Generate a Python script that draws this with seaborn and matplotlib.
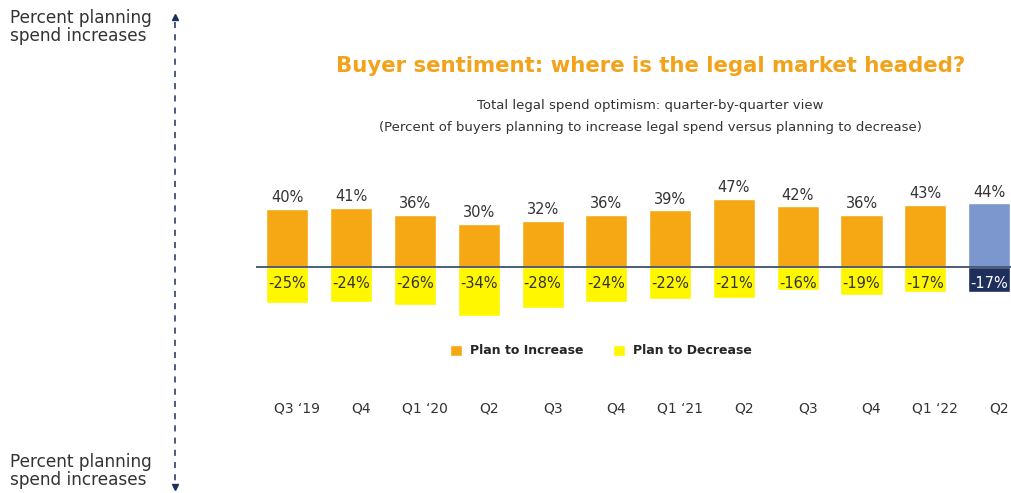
import matplotlib
matplotlib.use("Agg")
import matplotlib.pyplot as plt
from matplotlib.patches import Patch
from matplotlib.transforms import ScaledTranslation
import pandas as pd
import seaborn as sns

# quarter keys (unique) and the labels shown under the bars
periods = ["Q3 19", "Q4 19", "Q1 20", "Q2 20", "Q3 20", "Q4 20",
           "Q1 21", "Q2 21", "Q3 21", "Q4 21", "Q1 22", "Q2 22"]
tick_labels = ["Q3 \u201819", "Q4", "Q1 \u201820", "Q2", "Q3", "Q4",
               "Q1 \u201821", "Q2", "Q3", "Q4", "Q1 \u201822", "Q2"]
plan_increase = [40, 41, 36, 30, 32, 36, 39, 47, 42, 36, 43, 44]
plan_decrease = [-25, -24, -26, -34, -28, -24, -22, -21, -16, -19, -17, -17]

ORANGE = "#F5A814"
YELLOW = "#FFF700"
BLUE = "#7B97CD"
NAVY = "#1F2F5C"
TEXT = "#333333"

df = pd.DataFrame({"period": periods, "increase": plan_increase,
                   "decrease": plan_decrease})

inc_colors = [ORANGE] * (len(periods) - 1) + [BLUE]
dec_colors = [YELLOW] * (len(periods) - 1) + [NAVY]

sns.set_style("white")
plt.rcParams["font.family"] = ["DejaVu Sans"]

W, H = 1011, 493
fig = plt.figure(figsize=(W / 100, H / 100), dpi=100)

# bar axes placed in pixel terms
left_px, right_px, top_px, bot_px = 255.5, 1021, 140, 340
ax = fig.add_axes([left_px / W, 1 - bot_px / H,
                   (right_px - left_px) / W, (bot_px - top_px) / H])

sns.barplot(data=df, x="period", y="increase", hue="period",
            palette=inc_colors, legend=False, width=0.66, saturation=1, ax=ax)
sns.barplot(data=df, x="period", y="decrease", hue="period",
            palette=dec_colors, legend=False, width=0.66, saturation=1, ax=ax)

ax.set_ylim(-50.3, 87.6)
ax.set_xlim(-0.5, len(periods) - 0.5)
ax.axhline(0, color="#3F5170", lw=1.3, zorder=5)

for i, (up, dn) in enumerate(zip(plan_increase, plan_decrease)):
    ax.text(i, up + 2.5, f"{up}%", ha="center", va="bottom",
            fontsize=10.5, color=TEXT)
    ax.text(i, -11, f"{dn}%", ha="center", va="center", fontsize=10.5,
            color="white" if i == len(periods) - 1 else TEXT, zorder=6)

ax.set_xticks(range(len(periods)))
ax.set_xticklabels(tick_labels, fontsize=10, color=TEXT)
ax.tick_params(axis="x", length=0, pad=44)
# quarter labels sit a little right of the bar centres
shift = ScaledTranslation(10 / 100, 0, fig.dpi_scale_trans)
for lab in ax.get_xticklabels():
    lab.set_transform(lab.get_transform() + shift)
ax.set_yticks([])
ax.set_xlabel("")
ax.set_ylabel("")
sns.despine(ax=ax, left=True, bottom=True)

# overlay in pixel coordinates for titles and side note
ov = fig.add_axes([0, 0, 1, 1], zorder=-1)
ov.set_xlim(0, W)
ov.set_ylim(H, 0)
ov.axis("off")

ov.text(651, 66, "Buyer sentiment: where is the legal market headed?",
        ha="center", va="center", fontsize=15.3, fontweight="bold",
        color="#F2A31B")
ov.text(650, 105, "Total legal spend optimism: quarter-by-quarter view",
        ha="center", va="center", fontsize=9.5, color=TEXT)
ov.text(650, 127, "(Percent of buyers planning to increase legal spend "
        "versus planning to decrease)",
        ha="center", va="center", fontsize=9.5, color=TEXT)

for y in (27, 471):
    ov.text(10, y, "Percent planning\nspend increases", ha="left",
            va="center", fontsize=12.2, color=TEXT, linespacing=1.0)

ov.plot([175, 175], [22, 482], color=NAVY, lw=1.1, ls=(0, (4, 4)))
ov.plot([175], [17], marker="^", color=NAVY, markersize=5)
ov.plot([175], [487], marker="v", color=NAVY, markersize=5)

handles = [Patch(facecolor=ORANGE, label="Plan to Increase"),
           Patch(facecolor=YELLOW, label="Plan to Decrease")]
fig.legend(handles=handles, loc="center", ncol=2,
           bbox_to_anchor=(601 / W, 1 - 351 / H), frameon=False,
           prop={"weight": "bold", "size": 9},
           handlelength=0.95, handleheight=0.95, handletextpad=0.6,
           columnspacing=2.4)

fig.savefig("out.png", dpi=100)
